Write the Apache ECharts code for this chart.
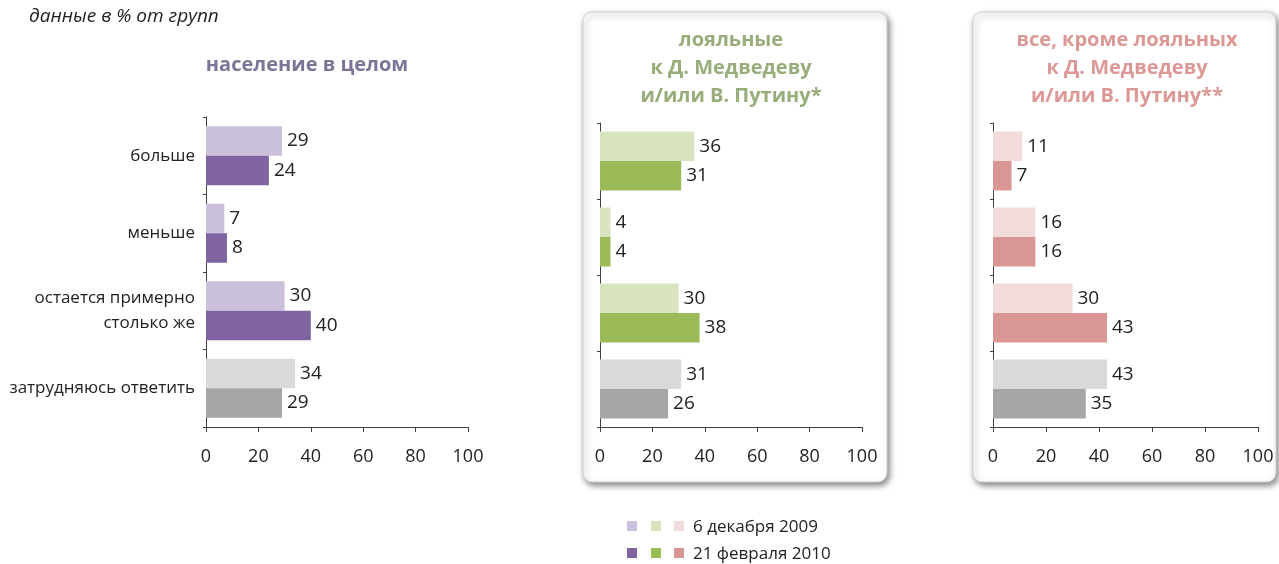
<!DOCTYPE html>
<html><head><meta charset="utf-8">
<script src="https://cdn.jsdelivr.net/npm/echarts@6/dist/echarts.min.js"></script>
<style>html,body{margin:0;padding:0;background:#fff}#c{width:1279px;height:564px}</style>
</head><body><div id="c"></div>
<script>
const categories = ['больше', 'меньше', 'остается примерно\nстолько же', 'затрудняюсь ответить'];
const ticks = [0, 20, 40, 60, 80, 100];
const panelTitles = ['население в целом', 'лояльные\nк Д. Медведеву\nи/или В. Путину*', 'все, кроме лояльных\nк Д. Медведеву\nи/или В. Путину**'];
const legendNames = ['6 декабря 2009', '21 февраля 2010'];
const pop2009 = [29, 7, 30, 34];
const pop2010 = [24, 8, 40, 29];
const loyal2009 = [36, 4, 30, 31];
const loyal2010 = [31, 4, 38, 26];
const other2009 = [11, 16, 30, 43];
const other2010 = [7, 16, 43, 35];

const FONT = 'Open Sans';
const lightColors = ['#cbc0dc', '#d8e4bf', '#f2dcdb'];
const darkColors = ['#8064a2', '#9bbb59', '#d99694'];
const grayLight = '#d9d9d9', grayDark = '#a6a6a6';
const titleColors = ['#7d7396', '#97ad7a', '#dc9895'];

const grids = [
  {left: 206, top: 117, width: 262, height: 310},
  {left: 600, top: 123, width: 262, height: 304},
  {left: 993, top: 123, width: 265, height: 304}
];
const data = [[pop2009, pop2010], [loyal2009, loyal2010], [other2009, other2010]];

const xAxis = [], yAxis = [], series = [];
grids.forEach((g, i) => {
  xAxis.push({
    type: 'value', gridIndex: i, min: 0, max: 100, interval: 20,
    axisLine: {show: true, lineStyle: {color: '#404040', width: 1}},
    axisTick: {show: true, length: 5, inside: false, lineStyle: {color: '#404040'}},
    splitLine: {show: false},
    axisLabel: {fontFamily: FONT, fontSize: 18, color: '#222', margin: 21}
  });
  yAxis.push({
    type: 'category', gridIndex: i, data: categories, inverse: true,
    axisLine: {show: true, lineStyle: {color: '#404040', width: 1}},
    axisTick: {show: true, length: 3, lineStyle: {color: '#404040'}},
    axisLabel: {show: i === 0, fontFamily: FONT, fontSize: 17, color: '#222', margin: 11, lineHeight: 25, align: 'right'}
  });
  [0, 1].forEach(k => {
    const col = k === 0 ? lightColors[i] : darkColors[i];
    const gcol = k === 0 ? grayLight : grayDark;
    series.push({
      type: 'bar', name: legendNames[k], xAxisIndex: i, yAxisIndex: i,
      barWidth: 29.5, barGap: '0%',
      itemStyle: {color: col},
      data: data[i][k].map((v, j) => j === 3 ? {value: v, itemStyle: {color: gcol}} : v),
      label: {show: true, position: 'right', distance: 5, fontFamily: FONT, fontSize: 19, color: '#222'},
      animation: false
    });
  });
});

const titleCenters = [307, 731, 1127];
const graphic = [
  {type: 'rect', shape: {x: 583, y: 12, width: 304, height: 470, r: 9}, z: -10,
   style: {fill: '#fff', stroke: '#d0d0d0', lineWidth: 1, shadowColor: 'rgba(0,0,0,0.5)', shadowBlur: 6, shadowOffsetX: 2, shadowOffsetY: 3}},
  {type: 'rect', shape: {x: 973, y: 12, width: 303, height: 470, r: 9}, z: -10,
   style: {fill: '#fff', stroke: '#d0d0d0', lineWidth: 1, shadowColor: 'rgba(0,0,0,0.5)', shadowBlur: 6, shadowOffsetX: 2, shadowOffsetY: 3}},
  {type: 'text', x: 29, y: 17, style: {text: 'данные в % от групп', font: 'italic 19px "' + FONT + '"', fill: '#222', textVerticalAlign: 'middle'}},
  {type: 'text', x: titleCenters[0], y: 65, style: {text: panelTitles[0], font: 'bold 20px "' + FONT + '"', fill: titleColors[0], textAlign: 'center', textVerticalAlign: 'middle'}},
  {type: 'text', x: titleCenters[1], y: 68, style: {text: panelTitles[1], font: 'bold 20px "' + FONT + '"', fill: titleColors[1], textAlign: 'center', textVerticalAlign: 'middle', lineHeight: 28}},
  {type: 'text', x: titleCenters[2], y: 68, style: {text: panelTitles[2], font: 'bold 20px "' + FONT + '"', fill: titleColors[2], textAlign: 'center', textVerticalAlign: 'middle', lineHeight: 28}}
];
const legX = [627, 651, 674];
[0, 1].forEach(k => {
  const y = k === 0 ? 521 : 548;
  legX.forEach((x, i) => {
    graphic.push({type: 'rect', shape: {x: x, y: y, width: 10, height: 10}, style: {fill: k === 0 ? lightColors[i] : darkColors[i]}});
  });
  graphic.push({type: 'text', x: 693, y: y + 6, style: {text: legendNames[k], font: '17px "' + FONT + '"', fill: '#222', textVerticalAlign: 'middle'}});
});

const chart = echarts.init(document.getElementById('c'));
chart.setOption({
  animation: false,
  grid: grids.map(g => Object.assign({containLabel: false}, g)),
  xAxis, yAxis, series, graphic
});
</script></body></html>
